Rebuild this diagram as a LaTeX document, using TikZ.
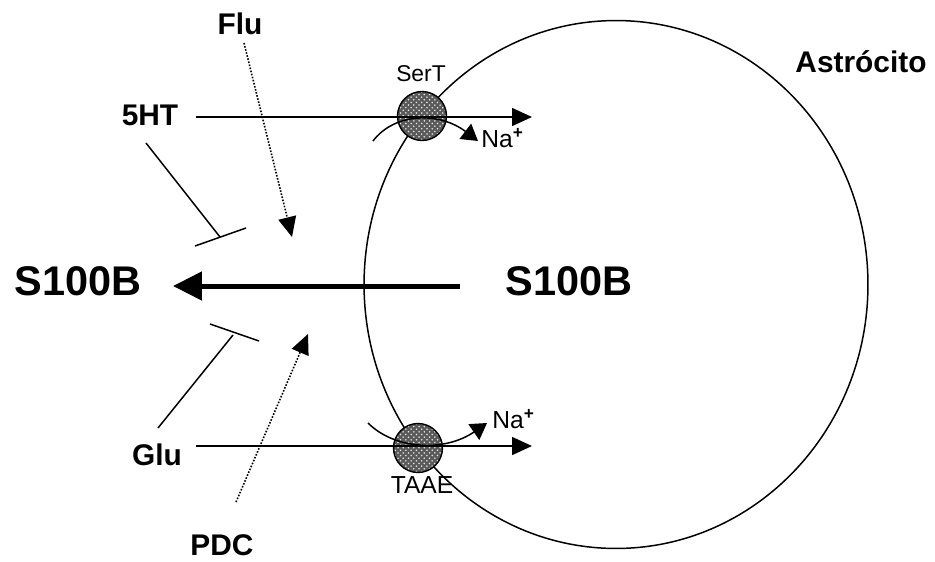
\documentclass[tikz,border=0pt]{standalone}
\usepackage{fontspec}
\setmainfont{Liberation Sans}
\usetikzlibrary{arrows.meta, patterns}
\tikzset{
  lbl/.style={font=\fontsize{17}{20}\selectfont\bfseries, inner sep=0pt},
  biglbl/.style={font=\fontsize{23.6}{28}\selectfont\bfseries, inner sep=0pt},
  smalllbl/.style={font=\fontsize{14}{16}\selectfont, inner sep=0pt},
  carrier/.style={circle, draw, line width=0.8pt, minimum size=0.98cm, inner sep=0pt,
                  preaction={fill=black!65}, pattern=crosshatch dots, pattern color=white!90!black},
  arr/.style={-{Triangle[length=0.4cm, width=0.36cm]}, line width=0.85pt},
  naarr/.style={-{Triangle[length=0.32cm, width=0.38cm]}, line width=0.85pt},
  dotarr/.style={-{Triangle[length=0.4cm, width=0.36cm]}, line width=0.9pt,
                 dash pattern=on 0.9pt off 0.9pt},
  bigarr/.style={-{Triangle[length=0.58cm, width=0.56cm]}, line width=2.85pt},
  inhib/.style={line width=0.85pt},
}
\begin{document}
\begin{tikzpicture}[x=0.02cm, y=-0.02cm]
  \useasboundingbox (0,0) rectangle (935,561);
  % astrocyte
  \draw[line width=0.85pt] (616,284.5) ellipse [x radius=5.04cm, y radius=5.28cm];
  \node[lbl] (astro) at (861,62) {Astrócito};
  % transporters
  \node[carrier] (sert) at (422,116) {};
  \node[carrier] (taae) at (418,448) {};
  \node[smalllbl, font=\fontsize{13}{15}\selectfont] (sertlbl) at (421,74) {SerT};
  \node[smalllbl] (taaelbl) at (422,485) {TAAE};
  % labels
  \node[lbl] (flu) at (240,24) {Flu};
  \node[lbl] (ht) at (150,115) {5HT};
  \node[lbl] (glu) at (157,455) {Glu};
  \node[lbl] (pdc) at (222,545) {PDC};
  \node[biglbl] (s100l) at (78,281) {S100B};
  \node[biglbl] (s100r) at (569,281) {S100B};
  \node[smalllbl, anchor=west] (na1) at (481,138) {Na\textsuperscript{\textbf{+}}};
  \node[smalllbl, anchor=west] (na2) at (492,419) {Na\textsuperscript{\textbf{+}}};
  % end points
  \coordinate (hta) at (196,117);  \coordinate (htb) at (532,117);
  \coordinate (glua) at (196,446); \coordinate (glub) at (532,446);
  \coordinate (na1a) at (373,141); \coordinate (na1b) at (478,141);
  \coordinate (na2a) at (368,423); \coordinate (na2b) at (487,423);
  \coordinate (flua) at (244,43);  \coordinate (flub) at (292,237);
  \coordinate (pdca) at (236,502); \coordinate (pdcb) at (308,334);
  \coordinate (outa) at (460,286); \coordinate (outb) at (173,286);
  \coordinate (hti) at (146,143);  \coordinate (htj) at (220,237);
  \coordinate (htk) at (195,246);  \coordinate (htl) at (246,228);
  \coordinate (glui) at (158,428); \coordinate (gluj) at (233,335);
  \coordinate (gluk) at (210,324); \coordinate (glul) at (259,341);
  % uptake
  \draw[arr] (hta) -- (htb);
  \draw[arr] (glua) -- (glub);
  \draw[naarr] (na1a) .. controls (395,112) and (440,112) .. (na1b);
  \draw[naarr] (na2a) .. controls (395,450) and (445,452) .. (na2b);
  % secretion
  \draw[bigarr] (outa) -- (outb);
  \draw[dotarr] (flua) -- (flub);
  \draw[dotarr] (pdca) -- (pdcb);
  \draw[inhib] (hti) -- (htj);
  \draw[inhib] (htk) -- (htl);
  \draw[inhib] (glui) -- (gluj);
  \draw[inhib] (gluk) -- (glul);
\end{tikzpicture}
\end{document}
